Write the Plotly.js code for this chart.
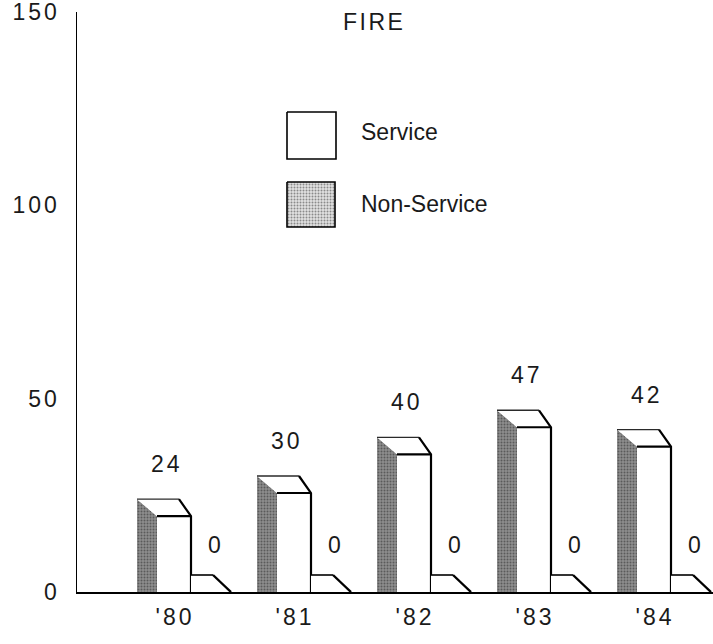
<!DOCTYPE html>
<html>
<head>
<meta charset="utf-8">
<script src="https://cdn.plot.ly/plotly-3.0.1.min.js"></script>
<style>
  html, body { margin: 0; padding: 0; background: #ffffff; }
  #chart { width: 713px; height: 644px; }
  /* wide-set numerals on the axes */
  #chart .xtick text, #chart .ytick text { letter-spacing: 3px; }
</style>
</head>
<body>
<div id="chart"></div>
<script>
// FIRE: service vs non-service counts by year
const years = ["'80", "'81", "'82", "'83", "'84"];
const serviceValues = [24, 30, 40, 47, 42];
const nonServiceValues = [0, 0, 0, 0, 0];
const yTicks = [0, 50, 100, 150];

// plot geometry (pixels) used to turn the 3-D look into axis units
const W = 713, H = 644;
const M = { l: 77, r: 0, t: 12, b: 52 };
const PX_PER_CAT = 120;
const Y_MAX = 150;
const PX_PER_UNIT = (H - M.t - M.b) / Y_MAX;
const xLo = -98 / PX_PER_CAT;
const xHi = xLo + (W - M.l - M.r) / PX_PER_CAT;

const px = p => p / PX_PER_CAT;          // horizontal pixels -> category units
const DEPTH = 17 / PX_PER_UNIT;          // vertical depth of the top face
const SIDE = px(20);                     // width of the shaded side face
const SLANT = px(12);                    // slant of the top face's right edge

const FONT = 'Liberation Sans, Arial, Helvetica, sans-serif';
const INK = '#1a1a1a';
const traces = [];

function poly(xs, ys, opts) {
  traces.push(Object.assign({
    type: 'scatter', mode: 'lines', x: xs, y: ys,
    showlegend: false, hoverinfo: 'skip', cliponaxis: false
  }, opts));
}
function fillPoly(xs, ys, fill, pattern) {
  const o = { fill: 'toself', fillcolor: fill, line: { width: 0, color: 'rgba(0,0,0,0)' } };
  if (pattern) o.fillpattern = pattern;
  poly(xs.concat([xs[0]]), ys.concat([ys[0]]), o);
}
function stroke(xs, ys, w, c) {
  poly(xs, ys, { line: { width: w, color: c || '#000' } });
}

const sidePattern = { shape: '.', fgcolor: '#5a5a5a', bgcolor: '#8e8e8e', size: 3, solidity: 0.35 };

years.forEach((yr, i) => {
  // service bar: shaded side, top face, front face
  const v = serviceValues[i];
  const xL = i - px(18), xR = i + px(16);
  const back = v;
  const front = Math.max(v - DEPTH, 0);

  fillPoly([xL - SIDE, xL, xL, xL - SIDE], [back, front, 0, 0], '#8e8e8e', sidePattern);
  fillPoly([xL - SIDE, xR - SLANT, xR, xL], [back, back, front, front], '#ffffff');
  fillPoly([xL, xR, xR, xL], [0, 0, front, front], '#ffffff');
  stroke([xL - SIDE, xR - SLANT], [back, back], 1.3, '#2a2a2a');
  stroke([xL, xR], [front, front], 2.2);
  stroke([xR - SLANT, xR, xR], [back, front, 0], 2.2);

  // non-service bar sits behind, to the right of the service bar
  const n = nonServiceValues[i];
  const nFront = Math.max(n - DEPTH, 0);
  const nBack = nFront + DEPTH;
  const xN = xR;
  fillPoly([xN, xN, xN + px(22), xN + px(40)], [nFront, nBack, nBack, nFront], '#ffffff');
  stroke([xN, xN + px(22)], [nBack, nBack], 1.6);
  stroke([xN + px(22), xN + px(40)], [nBack, nFront], 2.4);
});

// legend boxes, placed on a pixel-scaled overlay axis
const legendPattern = { shape: '.', fgcolor: '#8a8a8a', bgcolor: '#e2e2e2', size: 3, solidity: 0.35 };
function legendBox(x0, y0, x1, y1, fill, pattern) {
  const o = {
    type: 'scatter', mode: 'lines', xaxis: 'x2', yaxis: 'y2',
    x: [x0, x1, x1, x0, x0], y: [y0, y0, y1, y1, y0],
    fill: 'toself', fillcolor: fill, line: { color: '#000', width: 1.6 },
    showlegend: false, hoverinfo: 'skip'
  };
  if (pattern) o.fillpattern = pattern;
  traces.push(o);
}
legendBox(287, 112, 336, 159, '#ffffff');
legendBox(287, 182, 335, 227, '#e2e2e2', legendPattern);

const annotations = [];
const spaced = (s, sp) => '<span style="letter-spacing:' + sp + 'px">' + s + '</span>';
const txt = (s) => ({ text: s, showarrow: false, font: { family: FONT, size: 23, color: INK } });

serviceValues.forEach((v, i) => {
  annotations.push(Object.assign(txt(spaced(String(v), 3)), {
    x: i - 0.065, y: v, xref: 'x', yref: 'y', yshift: 35, yanchor: 'middle'
  }));
});
nonServiceValues.forEach((v, i) => {
  annotations.push(Object.assign(txt(spaced(String(v), 3)), {
    x: i + 0.34, y: v, xref: 'x', yref: 'y', yshift: 47, yanchor: 'middle'
  }));
});

annotations.push(Object.assign(txt(spaced('FIRE', 2.5)), { x: 374, y: 22, xref: 'x2', yref: 'y2', xanchor: 'center', yanchor: 'middle' }));
annotations.push(Object.assign(txt('Service'), { x: 359, y: 132, xref: 'x2', yref: 'y2', xanchor: 'left', yanchor: 'middle' }));
annotations.push(Object.assign(txt('Non-Service'), { x: 359, y: 204, xref: 'x2', yref: 'y2', xanchor: 'left', yanchor: 'middle' }));

const layout = {
  width: W, height: H,
  margin: M,
  paper_bgcolor: '#ffffff', plot_bgcolor: '#ffffff',
  showlegend: false,
  font: { family: FONT, size: 23, color: INK },
  xaxis: {
    range: [xLo, xHi], showgrid: false, zeroline: false,
    showline: true, linecolor: '#000', linewidth: 2,
    tickvals: years.map((_, i) => i), ticktext: years,
    ticks: '', ticklabelstandoff: 3,
    tickfont: { family: FONT, size: 23, color: INK },
    fixedrange: true
  },
  yaxis: {
    range: [0, Y_MAX], showgrid: false, zeroline: false,
    showline: true, linecolor: '#000', linewidth: 1.5,
    tickvals: yTicks, ticktext: yTicks.map(String),
    ticks: '', ticklabelstandoff: 11, ticklabeloverflow: 'allow',
    tickfont: { family: FONT, size: 23, color: INK },
    fixedrange: true
  },
  xaxis2: { overlaying: 'x', range: [M.l, W - M.r], visible: false, fixedrange: true },
  yaxis2: { overlaying: 'y', range: [H - M.b, M.t], visible: false, fixedrange: true },
  annotations: annotations
};

Plotly.newPlot('chart', traces, layout, { staticPlot: true, displayModeBar: false });
</script>
</body>
</html>
